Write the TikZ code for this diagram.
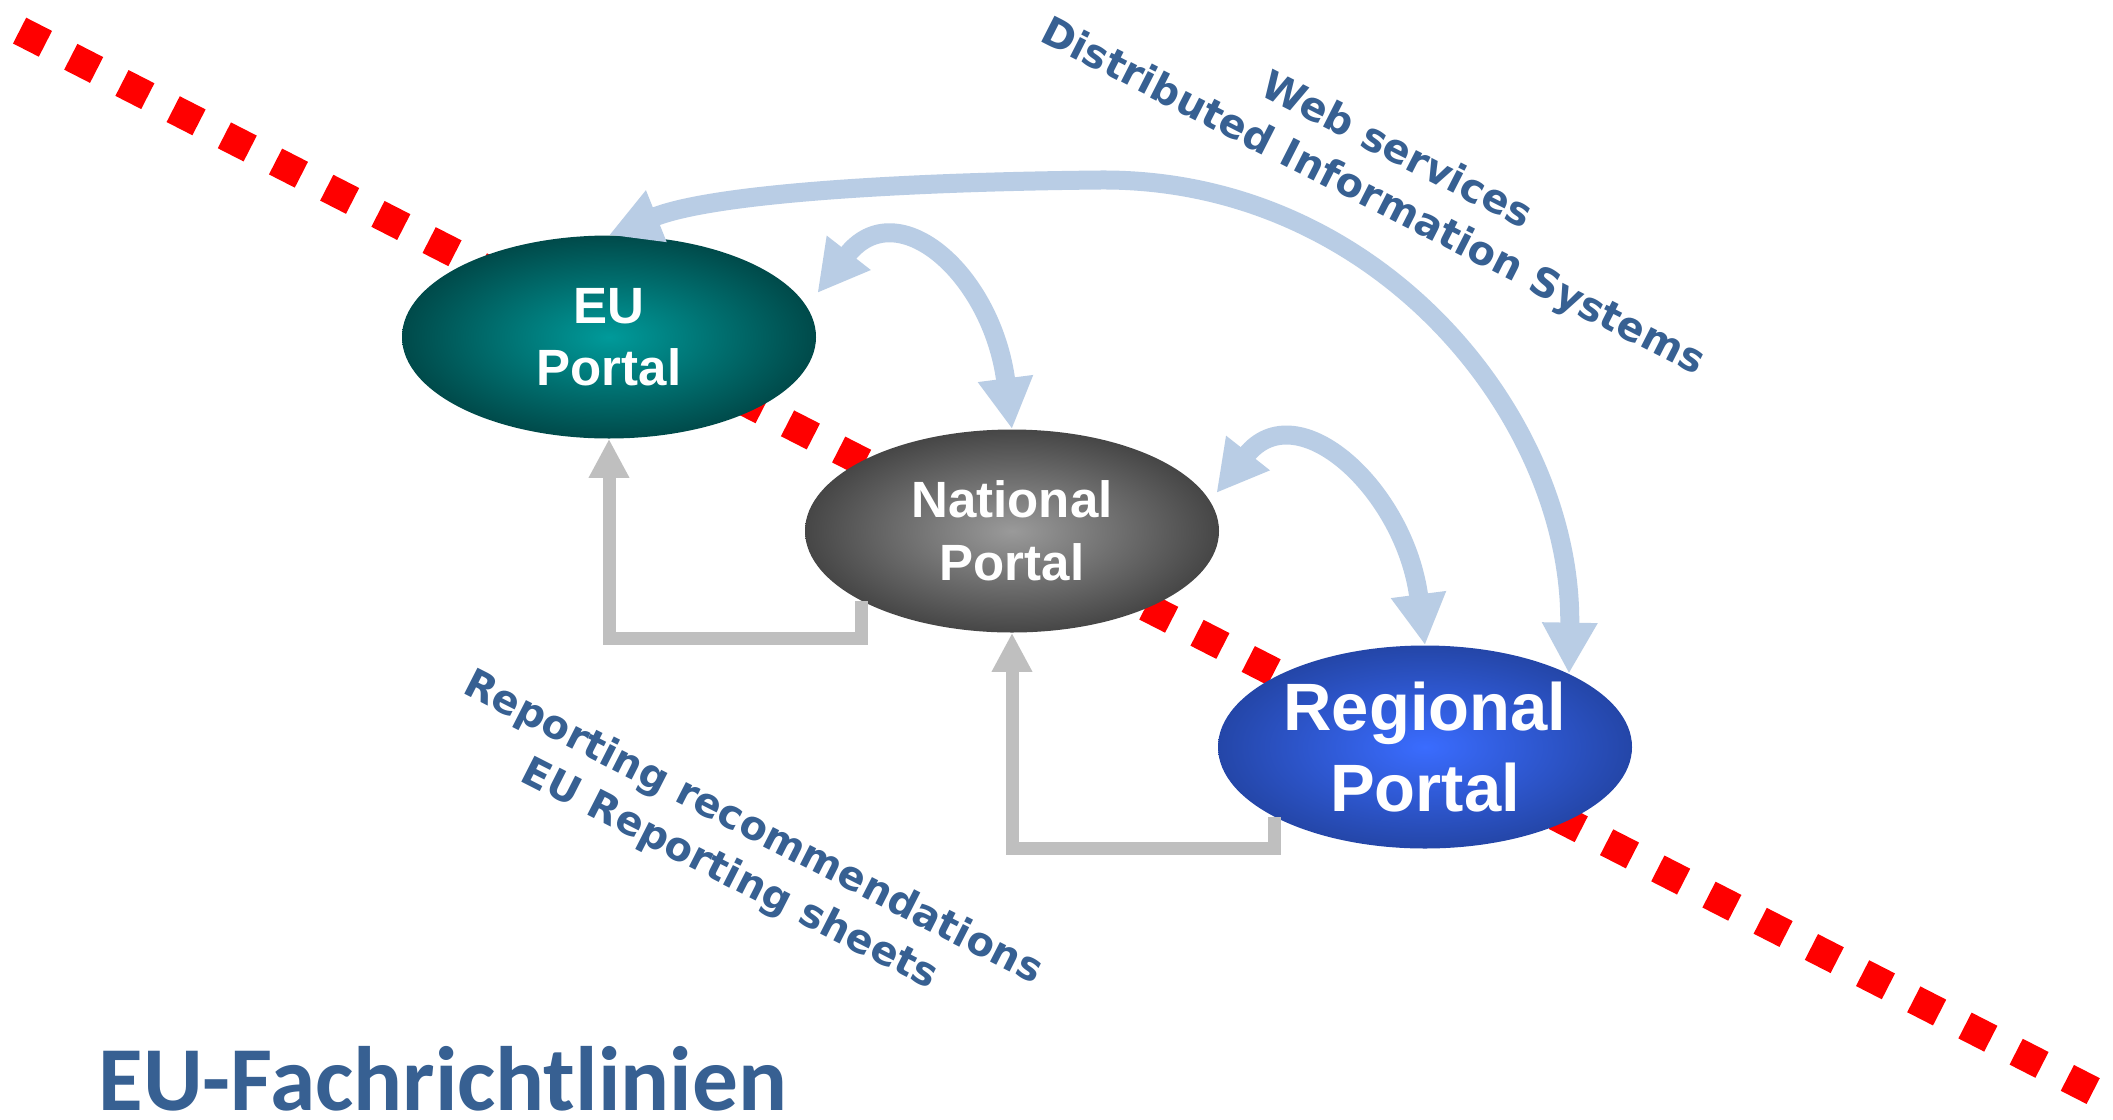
\documentclass[tikz,border=0pt]{standalone}
\usepackage{fontspec}
\setmainfont{Liberation Sans}
\newfontfamily\dvs{DejaVu Sans}
\newfontfamily\carl{Carlito}
\usetikzlibrary{shapes.geometric,arrows.meta,calc}
\definecolor{txtblue}{HTML}{376092}
\definecolor{arrblue}{HTML}{B9CDE5}
\definecolor{arrgray}{HTML}{BFBFBF}
\definecolor{euin}{HTML}{009A9A}
\definecolor{euout}{HTML}{004A4A}
\definecolor{natin}{HTML}{9A9A9A}
\definecolor{natout}{HTML}{464646}
\definecolor{regin}{HTML}{3A6CFF}
\definecolor{regout}{HTML}{2446A8}
\begin{document}
\begin{tikzpicture}[x=0.5pt,y=-0.5pt,
  portal/.style={ellipse, minimum width=207pt, minimum height=101.5pt, inner sep=0pt, text=white, align=center},
  bluedbl/.style={draw=arrblue, line width=9.5pt, {Triangle[length=25.5pt,width=26pt]}-{Triangle[length=25.5pt,width=26pt]}},
  grayarr/.style={draw=arrgray, line width=6.5pt, -{Triangle[length=19.5pt,width=19pt]}},
  reddots/.style={draw=red, line width=14.5pt, dash pattern=on 14.5pt off 14.25pt},
  lbl/.style={text=txtblue, font=\dvs\bfseries\fontsize{20pt}{26pt}\selectfont, align=center, rotate=-27, inner sep=0pt}
]
\fill[white] (0,0) rectangle (2113,1119);
\useasboundingbox (0,0) rectangle (2113,1119);

% red dotted border line
\draw[reddots] (19.6,30.6) -- (2095,1092);

% portals
\node[portal, inner color=euin, outer color=euout,
  font=\bfseries\fontsize{25.5pt}{31pt}\selectfont] (eu) at (609,337) {EU\\Portal};
\node[portal, inner color=natin, outer color=natout,
  font=\bfseries\fontsize{25.5pt}{31.5pt}\selectfont] (nat) at (1012,531) {National\\Portal};
\node[portal, inner color=regin, outer color=regout,
  font=\bfseries\fontsize{33.5pt}{40.5pt}\selectfont] (reg) at (1425,747) {Regional\\Portal};

% gray reporting arrows
\draw[grayarr] (nat.205) -- ++(0,37) -| (eu.south);
\draw[grayarr] (reg.205) -- ++(0,31) -| (nat.south);

% blue web-service arrows
\draw[bluedbl] (eu.north) .. controls (713,193.5) and (900,182) .. (1100,180)
  .. controls (1380,178) and (1573,420) .. (reg.27);
\draw[bluedbl] ([shift={(1,-44)}]eu.east) .. controls (897,191) and (992,274) .. (nat.north);
\draw[bluedbl] ([shift={(-3,-38)}]nat.east) .. controls (1297,391) and (1405,490) .. (reg.north);

% labels
\node[lbl] (ws) at (1384,175) {Web services\\Distributed Information Systems};
\node[lbl] (rr) at (741,852) {Reporting recommendations\\EU Reporting sheets};
\node[anchor=base west, inner sep=0pt, text=txtblue,
  font=\carl\bfseries\fontsize{45.7pt}{50pt}\selectfont] (title) at (98,1110) {EU-Fachrichtlinien};
\end{tikzpicture}
\end{document}
